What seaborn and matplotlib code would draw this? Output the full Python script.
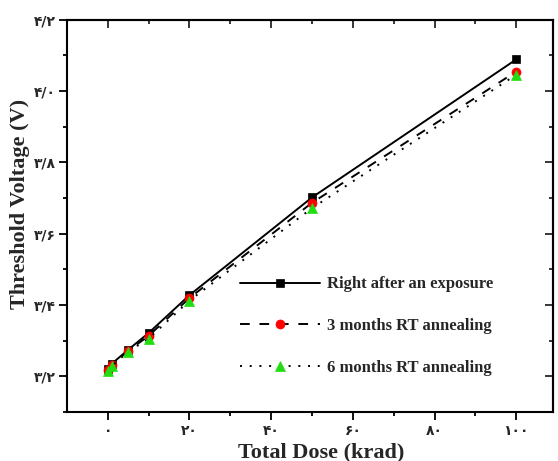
import matplotlib
matplotlib.use("Agg")
import matplotlib.pyplot as plt
import seaborn as sns
import pandas as pd

# ---- data ----
dose = [0, 1, 5, 10, 20, 50, 100]
right_after = [3.222, 3.236, 3.275, 3.322, 3.428, 3.702, 4.089]
three_months = [3.218, 3.233, 3.272, 3.314, 3.420, 3.687, 4.055]
six_months = [3.214, 3.229, 3.270, 3.306, 3.413, 3.672, 4.046]

series_names = ["Right after an exposure", "3 months RT annealing", "6 months RT annealing"]
x_ticks = [0, 20, 40, 60, 80, 100]
x_tick_labels = ["۰", "۲۰", "۴۰", "۶۰", "۸۰", "۱۰۰"]
y_ticks = [3.2, 3.4, 3.6, 3.8, 4.0, 4.2]
y_tick_labels = ["۳/۲", "۳/۴", "۳/۶", "۳/۸", "۴/۰", "۴/۲"]
x_minor = [10, 30, 50, 70, 90]
y_minor = [3.1, 3.3, 3.5, 3.7, 3.9, 4.1]

sns.set_style("ticks")
plt.rcParams['font.family'] = ['Liberation Serif', 'DejaVu Sans']

fig = plt.figure(figsize=(5.58, 4.61), dpi=100)
ax = fig.add_axes([0.120, 0.106, 0.871, 0.851])

df = pd.DataFrame({"dose": dose * 3,
                   "vth": right_after + three_months + six_months,
                   "series": [series_names[0]] * len(dose) + [series_names[1]] * len(dose) + [series_names[2]] * len(dose)})

styles = [
    dict(marker="s", mfc="black", mec="black", ls="-", ms=6),
    dict(marker="o", mfc="red", mec="red", ls=(0, (5, 5)), ms=6.5),
    dict(marker="^", mfc="#22dd11", mec="#22dd11", ls=(0, (1, 4)), ms=7.5),
]
for name, st in zip(series_names, styles):
    sub = df[df["series"] == name]
    sns.lineplot(data=sub, x="dose", y="vth", ax=ax, label=name,
                 color="black", marker=st["marker"], markerfacecolor=st["mfc"],
                 markeredgecolor=st["mec"], markersize=st["ms"], linestyle=st["ls"],
                 linewidth=1.4, markeredgewidth=0.5)

ax.set_xlim(-10, 109)
ax.set_ylim(3.1, 4.2)
ax.set_xticks(x_ticks, x_tick_labels)
ax.set_yticks(y_ticks, y_tick_labels)
ax.set_xticks(x_minor, minor=True)
ax.set_yticks(y_minor, minor=True)
for lab in ax.get_xticklabels() + ax.get_yticklabels():
    lab.set_family(['DejaVu Sans'])
    lab.set_fontweight('bold')
    lab.set_fontsize(10)
ax.tick_params(which='major', direction='out', length=6, width=1.3, color='black')
ax.tick_params(which='minor', direction='out', length=3, width=1.3, color='black')
ax.tick_params(axis='x', which='major', pad=2.5)
ax.tick_params(axis='y', which='major', pad=2)

for sp in ax.spines.values():
    sp.set_visible(True)
    sp.set_linewidth(1.5)
    sp.set_color('black')

# mirrored inward ticks on top and right
top = ax.secondary_xaxis('top')
top.set_xticks(x_ticks)
top.set_xticks(x_minor, minor=True)
top.tick_params(which='major', direction='in', length=6, width=1.3, labeltop=False)
top.tick_params(which='minor', direction='in', length=3, width=1.3)
top.spines['top'].set_linewidth(1.5)
right = ax.secondary_yaxis('right')
right.set_yticks(y_ticks)
right.set_yticks(y_minor, minor=True)
right.tick_params(which='major', direction='in', length=6, width=1.3, labelright=False)
right.tick_params(which='minor', direction='in', length=3, width=1.3)
right.spines['right'].set_linewidth(1.5)

ax.set_xlabel("Total Dose (krad)", fontsize=16, fontweight='bold', labelpad=3)
ax.xaxis.label.set_x(0.523)
ax.set_ylabel("Threshold Voltage (V)", fontsize=16, fontweight='bold', labelpad=3)
ax.yaxis.label.set_y(0.53)

leg = ax.legend(loc='center left', bbox_to_anchor=(0.356, 0.219), frameon=False,
                prop={'family': 'Liberation Serif', 'weight': 'bold', 'size': 12},
                handlelength=4.8, handletextpad=0.4, labelspacing=1.55,
                borderpad=0, borderaxespad=0, numpoints=1)

fig.savefig("out.png", dpi=100)
